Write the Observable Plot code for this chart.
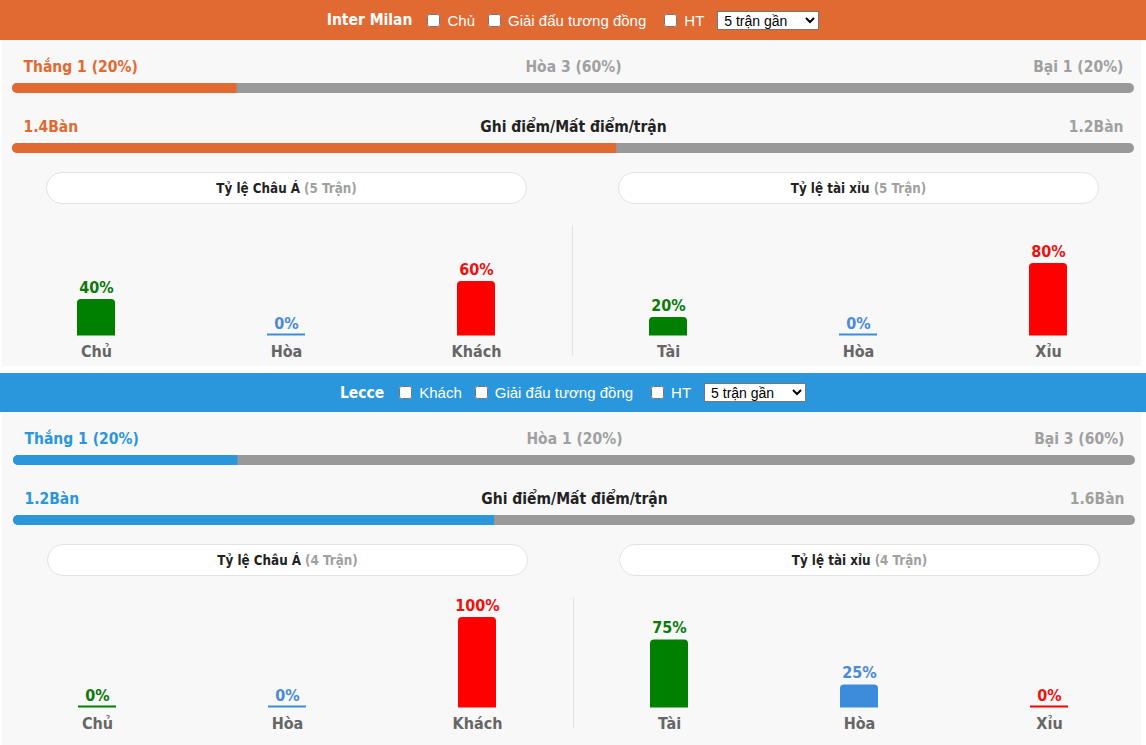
<!DOCTYPE html>
<html><head><meta charset="utf-8">
<script src="https://cdn.jsdelivr.net/npm/d3@7"></script>
<script src="https://cdn.jsdelivr.net/npm/@observablehq/plot@0.6"></script>
<style>
html,body{margin:0;padding:0;background:#fff;}
body{width:1146px;height:745px;overflow:hidden;position:relative;font-family:"DejaVu Sans Condensed","DejaVu Sans",sans-serif;}
.panel{position:absolute;left:0;width:1146px;height:372px;}
.hdr{position:absolute;left:0;width:1146px;height:39px;display:flex;align-items:center;justify-content:center;color:#fff;font-family:"Liberation Sans",Arial,sans-serif;font-size:15px;}
.hdr .team{font-family:"DejaVu Sans Condensed","DejaVu Sans",sans-serif;font-weight:bold;font-size:15.5px;margin-right:15px;}
.hdr input{margin:0 7px 0 0;width:13px;height:13px;}
.hdr .lab{margin-right:13px;}
.hdr select{font-family:"Liberation Sans",Arial,sans-serif;font-size:14px;width:102px;height:19px;padding:0 0 0 2px;border:1px solid #767676;border-radius:0;background:#fff;color:#000;}
.body{position:absolute;left:2px;width:1139px;background:#f8f8f8;}
.abs{position:absolute;}
.pill{position:absolute;width:479px;height:30px;border:1px solid #e3e3e3;border-radius:16px;background:#fff;display:flex;align-items:center;justify-content:center;font-weight:bold;font-size:13.3px;color:#222;}
.pill span{color:#a0a0a0;margin-left:4px;}
.divider{position:absolute;left:572px;width:1px;background:#e2e2e2;}
</style>
</head><body>
<script>
// ---- data ----
const teams = ["Inter Milan", "Lecce"];
const venueFilter = ["Chủ", "Khách"];
const otherFilters = ["Giải đấu tương đồng", "HT"];
const rangeOption = "5 trận gần";
const teamColors = ["#e06a32", "#2a96dc"];
const resultLabels = ["Thắng", "Hòa", "Bại"];
const resultCounts = [[1, 3, 1], [1, 1, 3]];
const goalsTitle = "Ghi điểm/Mất điểm/trận";
const goalsUnit = "Bàn";
const goalsFor = [1.4, 1.2];
const goalsAgainst = [1.2, 1.6];
const asianTitle = "Tỷ lệ Châu Á";
const ouTitle = "Tỷ lệ tài xỉu";
const matchWord = "Trận";
const asianMatches = [5, 4];
const ouMatches = [5, 4];
const asianCats = ["Chủ", "Hòa", "Khách"];
const asianPct = [[40, 0, 60], [0, 0, 100]];
const ouCats = ["Tài", "Hòa", "Xỉu"];
const ouPct = [[20, 0, 80], [75, 25, 0]];
const barColors = ["#008000", "#3d8bdb", "#ff0000"];
const textColors = ["#0a7a0a", "#4a8ad6", "#ee1111"];

const FONT = "'DejaVu Sans Condensed','DejaVu Sans',sans-serif";
const plotStyle = {background: "transparent", maxWidth: "none", overflow: "visible", fontFamily: FONT};

function progressRow(total, part, color, left, center, right, centerColor) {
  return Plot.plot({
    width: 1146, height: 50, marginLeft: 12, marginRight: 12, marginTop: 33, marginBottom: 7,
    x: {domain: [0, total], axis: null}, y: {axis: null},
    style: plotStyle,
    marks: [
      Plot.barX([total], {x: d => d, fill: "#999999", rx: 5}),
      Plot.barX([part], {x: d => d, fill: color, rx: 5}),
      Plot.barX([part], {x: d => d, fill: color, insetLeft: 5}),
      Plot.text([left], {text: d => d, frameAnchor: "top-left", dx: 11, dy: -16, textAnchor: "start", lineAnchor: "middle", fill: color, fontSize: 15.5, fontWeight: "bold"}),
      Plot.text([center], {text: d => d, frameAnchor: "top", dy: -16, lineAnchor: "middle", fill: centerColor, fontSize: 15.5, fontWeight: "bold"}),
      Plot.text([right], {text: d => d, frameAnchor: "top-right", dx: -11, dy: -16, textAnchor: "end", lineAnchor: "middle", fill: "#a0a0a0", fontSize: 15.5, fontWeight: "bold"})
    ]
  });
}

function barChart(cats, pct) {
  const data = cats.map((c, i) => ({cat: c, pct: pct[i], color: barColors[i], tcolor: textColors[i]}));
  const nz = data.filter(d => d.pct > 0);
  return Plot.plot({
    width: 572, height: 140, marginLeft: 1, marginRight: 1, marginTop: 20, marginBottom: 30,
    x: {type: "band", domain: cats, paddingInner: 0.8, paddingOuter: 0.4, axis: null},
    y: {domain: [0, 100], axis: null},
    style: plotStyle,
    marks: [
      Plot.tickY(data, {x: "cat", y: () => 0, stroke: d => d.color, strokeWidth: 2, dy: -1}),
      Plot.barY(nz, {x: "cat", y: "pct", fill: d => d.color, rx: 4}),
      Plot.barY(nz, {x: "cat", y: "pct", fill: d => d.color, insetTop: 4}),
      Plot.text(data, {x: "cat", y: "pct", text: d => d.pct + "%", fill: d => d.tcolor, dy: -12, lineAnchor: "middle", fontSize: 16, fontWeight: "bold"}),
      Plot.text(cats, {x: d => d, frameAnchor: "bottom", dy: 16, lineAnchor: "middle", fill: "#666666", fontSize: 16, fontWeight: "bold"})
    ]
  });
}

const panelTops = [0, 372];
teams.forEach((team, t) => {
  const panel = document.createElement("div");
  panel.className = "panel";
  panel.style.top = panelTops[t] + "px";
  document.body.appendChild(panel);

  // header
  const hdr = document.createElement("div");
  hdr.className = "hdr";
  hdr.style.top = (t === 0 ? 0 : 1) + "px";
  hdr.style.height = (t === 0 ? 40 : 39) + "px";
  hdr.style.background = teamColors[t];
  const name = document.createElement("span"); name.className = "team"; name.textContent = team; hdr.appendChild(name);
  [venueFilter[t], ...otherFilters].forEach((f, i) => {
    const cb = document.createElement("input"); cb.type = "checkbox"; hdr.appendChild(cb);
    const lab = document.createElement("span"); lab.className = "lab"; lab.textContent = f;
    if (i === 1) lab.style.marginRight = "18px";
    hdr.appendChild(lab);
  });
  const sel = document.createElement("select");
  const opt = document.createElement("option"); opt.textContent = rangeOption; sel.appendChild(opt);
  hdr.appendChild(sel);
  panel.appendChild(hdr);

  // body bg
  const body = document.createElement("div");
  body.className = "body";
  body.style.top = "40px";
  body.style.height = (t === 0 ? 326 : 333) + "px";
  panel.appendChild(body);

  // row 1: results
  const counts = resultCounts[t];
  const n = d3.sum(counts);
  const lbl = counts.map((c, i) => `${resultLabels[i]} ${c} (${Math.round(c / n * 100)}%)`);
  const r1 = progressRow(n, counts[0], teamColors[t], lbl[0], lbl[1], lbl[2], "#a0a0a0");
  const d1 = document.createElement("div"); d1.className = "abs"; d1.style.top = "50px"; d1.style.left = (t ? 1 : 0) + "px";
  d1.appendChild(r1); panel.appendChild(d1);

  // row 2: goals
  const gf = goalsFor[t], ga = goalsAgainst[t];
  const r2 = progressRow(gf + ga, gf, teamColors[t], gf + goalsUnit, goalsTitle, ga + goalsUnit, "#222222");
  const d2 = document.createElement("div"); d2.className = "abs"; d2.style.top = "110px"; d2.style.left = (t ? 1 : 0) + "px";
  d2.appendChild(r2); panel.appendChild(d2);

  // pills
  [[asianTitle, asianMatches[t], 46], [ouTitle, ouMatches[t], 618]].forEach(([title, m, x]) => {
    const p = document.createElement("div"); p.className = "pill";
    p.style.left = (x + t) + "px"; p.style.top = "172px";
    p.innerHTML = `${title}<span>(${m} ${matchWord})</span>`;
    panel.appendChild(p);
  });

  // divider
  const dv = document.createElement("div"); dv.className = "divider";
  dv.style.top = "225px"; dv.style.height = "131px"; dv.style.left = (572 + t) + "px";
  panel.appendChild(dv);

  // bar charts
  [[asianCats, asianPct[t], 0], [ouCats, ouPct[t], 572]].forEach(([cats, pct, x]) => {
    const c = document.createElement("div"); c.className = "abs";
    c.style.left = (x + t) + "px"; c.style.top = "225px";
    c.appendChild(barChart(cats, pct));
    panel.appendChild(c);
  });
});
</script>
</body></html>
